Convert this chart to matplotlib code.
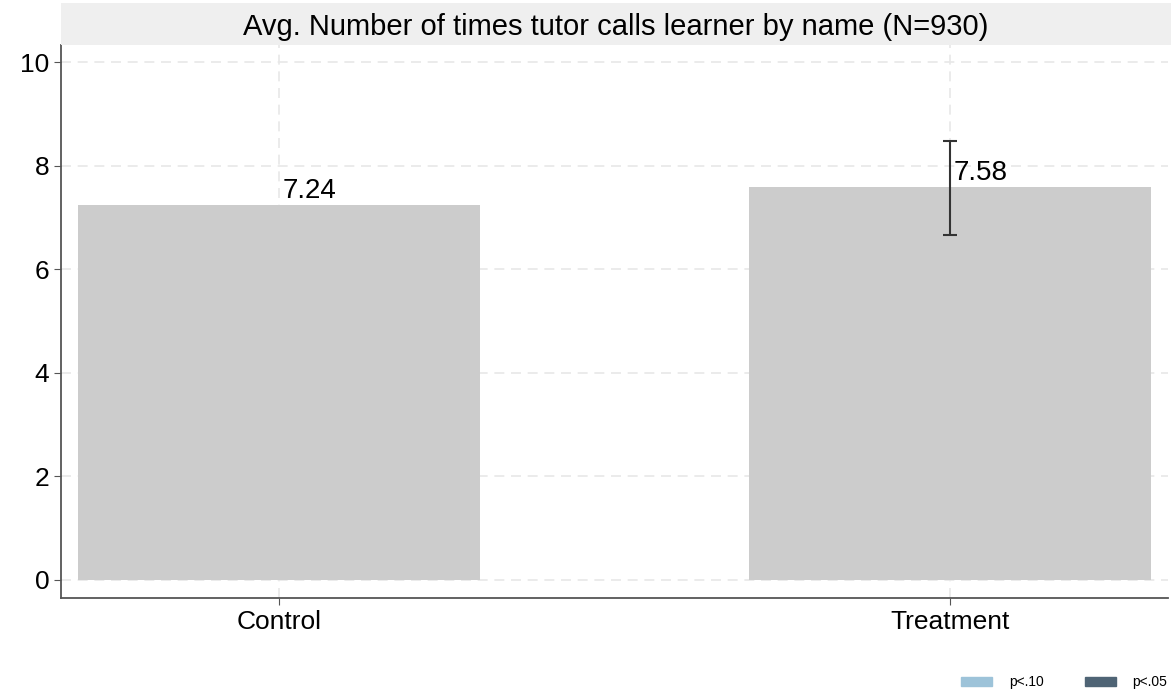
import matplotlib.pyplot as plt
from matplotlib.patches import Patch

plt.rcParams["font.family"] = ["Liberation Sans", "DejaVu Sans"]

groups = ["Control", "Treatment"]
means = [7.24, 7.58]
ci_low = [None, 6.66]
ci_high = [None, 8.48]
title = "Avg. Number of times tutor calls learner by name (N=930)"
sig_labels = ["p<.10", "p<.05"]
sig_colors = ["#9dc3d9", "#4f6475"]

fig = plt.figure(figsize=(11.75, 6.95), dpi=100)
ax = fig.add_axes([61 / 1175, 97 / 695, 1107 / 1175, 553 / 695])

x = range(len(groups))
ax.bar(x, means, width=0.6, color="#cccccc", zorder=2)

for i, m in enumerate(means):
    if ci_low[i] is not None:
        ax.errorbar(i, m, yerr=[[m - ci_low[i]], [ci_high[i] - m]], fmt="none",
                    ecolor="#333333", elinewidth=1.5, capsize=5, capthick=1.5, zorder=3)
    ax.text(i + 0.005, m + 0.02, f"{m:.2f}", ha="left", va="bottom", fontsize=20, zorder=4)

ax.set_xlim(-0.325, 1.325)
ax.set_ylim(-0.35, 10.33)
ax.set_xticks(list(x))
ax.set_xticklabels(groups)
ax.set_yticks([0, 2, 4, 6, 8, 10])
ax.tick_params(labelsize=19, length=5, color="#555555")
ax.grid(True, linestyle=(0, (6, 4)), color="#e8e8e8", linewidth=1.2, zorder=0)
for s in ["top", "right"]:
    ax.spines[s].set_visible(False)
for s in ["left", "bottom"]:
    ax.spines[s].set_color("#555555")
    ax.spines[s].set_linewidth(1.3)

# title strip
tax = fig.add_axes([61 / 1175, 650 / 695, 1110 / 1175, 42 / 695])
tax.set_facecolor("#efefef")
tax.set_xticks([])
tax.set_yticks([])
for s in tax.spines.values():
    s.set_visible(False)
tax.text(0.5, 0.42, title, ha="center", va="center", fontsize=21, transform=tax.transAxes)

handles = [Patch(color=c, label=l) for c, l in zip(sig_colors, sig_labels)]
fig.legend(handles=handles, loc="lower right", bbox_to_anchor=(1.004, -0.01), ncol=2,
           frameon=False, fontsize=10, handlelength=2.2, handleheight=0.6,
           columnspacing=3.0, handletextpad=1.2)

fig.savefig("out.png", dpi=100)
